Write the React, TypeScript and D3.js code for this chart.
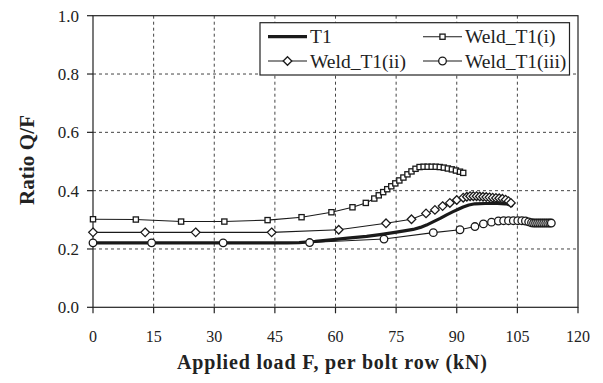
import React from "react";
import * as d3 from "d3";

const xTicks = [0, 15, 30, 45, 60, 75, 90, 105, 120];
const yTicks = [0.0, 0.2, 0.4, 0.6, 0.8, 1.0];

const t1X = [0, 10, 20, 30, 40, 48, 51, 55, 59.5, 63, 67.7, 71, 74.3, 77, 79.2, 81, 82.5, 84, 85.9, 87.5, 89.1, 90.5, 91.6, 93, 94.5, 97, 100, 102, 103.2, 104];
const t1Y = [0.221, 0.221, 0.221, 0.221, 0.221, 0.221, 0.222, 0.226, 0.232, 0.237, 0.243, 0.249, 0.256, 0.262, 0.267, 0.274, 0.282, 0.292, 0.305, 0.317, 0.328, 0.337, 0.344, 0.351, 0.355, 0.356, 0.356, 0.355, 0.352, 0.348];

const w1X = [0, 10.6, 21.8, 32.5, 43.2, 51.6, 59, 64.2, 67.5, 69.6, 70.7, 71.8, 72.8, 73.8, 74.8, 75.8, 76.8, 77.8, 78.8, 79.8, 80.8, 81.8, 82.8, 83.8, 84.8, 85.8, 86.8, 87.8, 88.8, 89.8, 90.8, 91.6];
const w1Y = [0.302, 0.301, 0.294, 0.294, 0.299, 0.309, 0.326, 0.343, 0.358, 0.373, 0.384, 0.395, 0.405, 0.415, 0.425, 0.435, 0.445, 0.456, 0.466, 0.475, 0.481, 0.482, 0.482, 0.482, 0.482, 0.481, 0.479, 0.476, 0.473, 0.469, 0.465, 0.461];

const w2X = [0, 12.9, 25.4, 44.2, 60.8, 72.5, 78.8, 82.4, 84.6, 86.5, 88.3, 90.0, 91.6, 92.5, 93.3, 94.1, 94.9, 95.7, 96.5, 97.3, 98.1, 98.9, 99.7, 100.5, 101.3, 102.1, 102.8, 103.4];
const w2Y = [0.257, 0.257, 0.257, 0.257, 0.266, 0.288, 0.302, 0.322, 0.334, 0.347, 0.358, 0.368, 0.376, 0.379, 0.381, 0.381, 0.381, 0.380, 0.379, 0.378, 0.377, 0.376, 0.375, 0.374, 0.372, 0.369, 0.364, 0.358];

const w3X = [0, 14.5, 32.2, 53.6, 72.0, 84.2, 90.8, 94.5, 96.6, 98.6, 100.3, 101.6, 102.8, 104.0, 105.1, 106.1, 107.0, 107.8, 108.5, 109.0, 109.5, 110.0, 110.5, 111.0, 111.5, 112.0, 112.5, 113.0, 113.4];
const w3Y = [0.221, 0.221, 0.221, 0.222, 0.234, 0.256, 0.266, 0.277, 0.286, 0.292, 0.296, 0.297, 0.297, 0.297, 0.297, 0.297, 0.296, 0.293, 0.290, 0.289, 0.289, 0.289, 0.289, 0.289, 0.289, 0.289, 0.289, 0.289, 0.289];

const seriesNames = ["T1", "Weld_T1(i)", "Weld_T1(ii)", "Weld_T1(iii)"];

const W = 603, H = 383;
const M = { left: 93, right: 578, top: 15.7, bottom: 307.3 };
const FONT = "'Liberation Serif', 'Times New Roman', serif";

type Marker = "none" | "square" | "diamond" | "circle";

function MarkerShape({ kind, x, y }: { kind: Marker; x: number; y: number }) {
  if (kind === "square") return <rect x={x - 2.6} y={y - 2.6} width={5.2} height={5.2} fill="white" stroke="#1a1a1a" strokeWidth={1.3} />;
  if (kind === "diamond") return <path d={`M${x},${y - 4.3}L${x + 4.3},${y}L${x},${y + 4.3}L${x - 4.3},${y}Z`} fill="white" stroke="#1a1a1a" strokeWidth={1.3} />;
  if (kind === "circle") return <circle cx={x} cy={y} r={3.8} fill="white" stroke="#1a1a1a" strokeWidth={1.3} />;
  return null;
}

export default function App() {
  const x = d3.scaleLinear().domain([0, 120]).range([M.left, M.right]);
  const y = d3.scaleLinear().domain([0, 1]).range([M.bottom, M.top]);

  const series = [
    { name: seriesNames[0], xs: t1X, ys: t1Y, marker: "none" as Marker, width: 3.2 },
    { name: seriesNames[1], xs: w1X, ys: w1Y, marker: "square" as Marker, width: 1.1 },
    { name: seriesNames[2], xs: w2X, ys: w2Y, marker: "diamond" as Marker, width: 1.1 },
    { name: seriesNames[3], xs: w3X, ys: w3Y, marker: "circle" as Marker, width: 1.1 },
  ];

  const line = d3.line<[number, number]>().x((d) => x(d[0])).y((d) => y(d[1]));

  const legendItems = [
    { s: series[0], lx: 268, ly: 36.7 },
    { s: series[1], lx: 423, ly: 36.7 },
    { s: series[2], lx: 268, ly: 61 },
    { s: series[3], lx: 423, ly: 61 },
  ];

  return (
    <svg width={W} height={H} style={{ position: "absolute", left: 0, top: 0, background: "white" }} fontFamily={FONT}>
      <rect x={0} y={0} width={W} height={H} fill="white" />
      {/* grid */}
      {xTicks.filter((t) => t > 0 && t < 120).map((t) => (
        <line key={"gx" + t} x1={x(t)} x2={x(t)} y1={M.top} y2={M.bottom} stroke="#444" strokeWidth={1} strokeDasharray="3,3" />
      ))}
      {yTicks.filter((t) => t > 0 && t < 1).map((t) => (
        <line key={"gy" + t} x1={M.left} x2={M.right} y1={y(t)} y2={y(t)} stroke="#444" strokeWidth={1} strokeDasharray="3,3" />
      ))}
      {/* frame */}
      <rect x={M.left} y={M.top} width={M.right - M.left} height={M.bottom - M.top} fill="none" stroke="#222" strokeWidth={1.2} />
      {/* ticks */}
      {yTicks.map((t) => (
        <g key={"yt" + t}>
          <line x1={M.left - 6} x2={M.left} y1={y(t)} y2={y(t)} stroke="#222" strokeWidth={1.2} />
          <text x={M.left - 14} y={y(t) + 6} textAnchor="end" fontSize={17} fill="#222">{t.toFixed(1)}</text>
        </g>
      ))}
      {xTicks.map((t) => (
        <g key={"xt" + t}>
          <line x1={x(t)} x2={x(t)} y1={M.bottom} y2={M.bottom + 6} stroke="#222" strokeWidth={1.2} />
          <text x={x(t)} y={342} textAnchor="middle" fontSize={16} fill="#222">{t}</text>
        </g>
      ))}
      {/* axis titles */}
      <text x={332} y={369} textAnchor="middle" fontSize={20} fontWeight="bold" fill="#222" textLength={310} lengthAdjust="spacing">Applied load F, per bolt row (kN)</text>
      <text transform={`translate(34,160) rotate(-90)`} textAnchor="middle" fontSize={21} fontWeight="bold" fill="#222" textLength={90} lengthAdjust="spacing">Ratio Q/F</text>
      {/* series lines */}
      {series.map((s) => (
        <path key={"l" + s.name} d={line(s.xs.map((v, i) => [v, s.ys[i]]) as [number, number][]) || ""} fill="none" stroke="#1a1a1a" strokeWidth={s.width} strokeLinejoin="round" />
      ))}
      {series.map((s) => (
        <g key={"m" + s.name}>
          {s.xs.map((v, i) => (
            <MarkerShape key={i} kind={s.marker} x={x(v)} y={y(s.ys[i])} />
          ))}
        </g>
      ))}
      {/* legend */}
      <rect x={260} y={22.7} width={309.5} height={52.3} fill="white" stroke="#222" strokeWidth={1.2} />
      {legendItems.map(({ s, lx, ly }) => (
        <g key={"lg" + s.name}>
          <line x1={lx} x2={lx + 39} y1={ly} y2={ly} stroke="#1a1a1a" strokeWidth={s.width} />
          <MarkerShape kind={s.marker} x={lx + 19.5} y={ly} />
          <text x={lx + 42} y={ly + 6.5} fontSize={19.5} fill="#222">{s.name}</text>
        </g>
      ))}
    </svg>
  );
}
